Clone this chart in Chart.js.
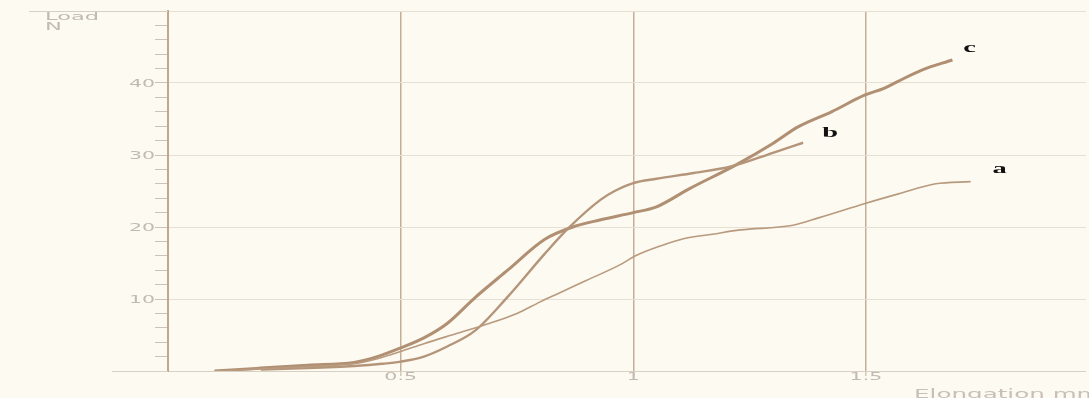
<!DOCTYPE html>
<html>
<head>
<meta charset="utf-8">
<script src="https://cdn.jsdelivr.net/npm/chart.js@4/dist/chart.umd.min.js"></script>
<style>
  html, body { margin: 0; padding: 0; background: #fcfaf1; }
  canvas { display: block; }
</style>
</head>
<body>
<canvas id="loadChart" width="1089" height="398"></canvas>
<script>
// elongation (mm) and load (N)
const elongA = [0.10, 0.20, 0.30, 0.40, 0.45, 0.50, 0.55, 0.62, 0.69, 0.75, 0.80, 0.84, 0.90, 0.97, 1.005, 1.06, 1.11, 1.17, 1.23, 1.34, 1.40, 1.50, 1.57, 1.65, 1.725];
const loadA  = [0.0, 0.3, 0.6, 1.0, 1.7, 2.7, 3.8, 5.2, 6.6, 8.0, 9.6, 10.8, 12.6, 14.7, 16.0, 17.4, 18.4, 19.0, 19.6, 20.2, 21.3, 23.3, 24.6, 26.0, 26.3];

const elongB = [0.20, 0.30, 0.40, 0.46, 0.50, 0.55, 0.60, 0.66, 0.73, 0.81, 0.86, 0.93, 0.96, 1.00, 1.05, 1.13, 1.21, 1.30, 1.365];
const loadB  = [0.2, 0.4, 0.7, 1.0, 1.3, 2.0, 3.4, 5.6, 10.3, 16.3, 19.8, 23.8, 25.0, 26.1, 26.7, 27.5, 28.4, 30.3, 31.7];

const elongC = [0.10, 0.20, 0.30, 0.40, 0.45, 0.50, 0.55, 0.60, 0.66, 0.73, 0.81, 0.87, 0.93, 1.00, 1.05, 1.12, 1.22, 1.30, 1.354, 1.426, 1.497, 1.54, 1.568, 1.62, 1.686];
const loadC  = [0.0, 0.4, 0.8, 1.2, 2.0, 3.2, 4.6, 6.6, 10.2, 14.0, 18.3, 20.0, 21.0, 22.0, 22.8, 25.3, 28.6, 31.6, 33.9, 36.0, 38.3, 39.3, 40.2, 41.8, 43.2];

const seriesNames = ['a', 'b', 'c'];
const xTickLabels = [0.5, 1, 1.5];
const yTickLabels = [10, 20, 30, 40];

const inkColor = '#b89a7e';
const labelColor = '#c2bab2';
const stretch = 2.05;

function toPoints(xs, ys) {
    return xs.map((x, i) => ({ x: x, y: ys[i] }));
}

function isMajorX(v) {
    return v > 0 && Math.abs(v * 2 - Math.round(v * 2)) < 1e-6;
}

function wideText(ctx, text, x, y, font, color, align, sx) {
    ctx.save();
    ctx.font = font;
    ctx.fillStyle = color;
    ctx.textAlign = align;
    ctx.textBaseline = 'middle';
    ctx.translate(x, y);
    ctx.scale(sx || stretch, 1);
    ctx.fillText(text, 0, 0);
    ctx.restore();
}

const paperPlugin = {
    id: 'paper',
    afterDraw(chart) {
        const ctx = chart.ctx;
        const xs = chart.scales.x;
        const ys = chart.scales.y;
        const left = chart.chartArea.left;

        // axis line and top rule run a bit past the left axis on the paper
        ctx.save();
        ctx.strokeStyle = '#d9d0c4';
        ctx.lineWidth = 1;
        ctx.beginPath();
        ctx.moveTo(112, ys.getPixelForValue(0) + 0.5);
        ctx.lineTo(left, ys.getPixelForValue(0) + 0.5);
        ctx.moveTo(29, ys.getPixelForValue(50) + 0.5);
        ctx.lineTo(left, ys.getPixelForValue(50) + 0.5);
        ctx.stroke();
        ctx.restore();

        yTickLabels.forEach(v => {
            wideText(ctx, String(v), left - 13, ys.getPixelForValue(v) + 1, '10px "DejaVu Sans"', labelColor, 'right');
        });
        xTickLabels.forEach(v => {
            wideText(ctx, String(v), xs.getPixelForValue(v), 377, '10px "DejaVu Sans"', labelColor, 'center');
        });

        wideText(ctx, 'Load', 45, 17, '11px "DejaVu Sans"', labelColor, 'left');
        wideText(ctx, 'N', 45, 27.5, '11px "DejaVu Sans"', labelColor, 'left');
        wideText(ctx, 'Elongation mm', 914, 395, '12px "DejaVu Sans"', '#c8c0b8', 'left');

        const offsets = [[29, -13], [27, -10], [17, -12]];
        chart.data.datasets.forEach((ds, i) => {
            const pts = chart.getDatasetMeta(i).data;
            const end = pts[pts.length - 1];
            wideText(ctx, seriesNames[i], end.x + offsets[i][0], end.y + offsets[i][1],
                'bold 15px "Liberation Serif"', '#111111', 'center', 1.9);
        });
    }
};

const ctx = document.getElementById('loadChart').getContext('2d');
const loadChart = new Chart(ctx, {
    type: 'line',
    data: {
        datasets: [
            { label: seriesNames[0], data: toPoints(elongA, loadA), borderColor: inkColor, borderWidth: 1.6 },
            { label: seriesNames[1], data: toPoints(elongB, loadB), borderColor: '#b5957a', borderWidth: 2.4 },
            { label: seriesNames[2], data: toPoints(elongC, loadC), borderColor: '#b08f72', borderWidth: 3 }
        ]
    },
    options: {
        responsive: false,
        animation: false,
        devicePixelRatio: 1,
        layout: { padding: { top: 11, right: 0, left: 0, bottom: 0 } },
        elements: {
            point: { radius: 0 },
            line: { tension: 0.35, cubicInterpolationMode: 'monotone', fill: false }
        },
        plugins: {
            legend: { display: false },
            tooltip: { enabled: false }
        },
        scales: {
            x: {
                type: 'linear',
                min: 0,
                max: 1.973,
                afterFit(scale) { scale.height = 27; },
                ticks: {
                    stepSize: 0.1,
                    autoSkip: false,
                    maxRotation: 0,
                    callback: () => ''
                },
                grid: {
                    color: c => isMajorX(c.tick.value) ? '#c4ae98' : 'rgba(0,0,0,0)',
                    lineWidth: c => isMajorX(c.tick.value) ? 1.5 : 0,
                    tickColor: c => c.tick.value > 0.001 ? '#d2c8bb' : 'rgba(0,0,0,0)',
                    tickLength: 5,
                    drawTicks: true
                },
                border: { color: '#d9d0c4', width: 1 }
            },
            y: {
                min: 0,
                max: 50,
                afterFit(scale) { scale.width = 168; },
                ticks: {
                    stepSize: 2,
                    autoSkip: false,
                    callback: () => ''
                },
                grid: {
                    color: c => (c.tick.value > 0 && c.tick.value % 10 === 0) ? '#e6dfd2' : 'rgba(0,0,0,0)',
                    lineWidth: 1,
                    tickColor: c => (c.tick.value > 0 && c.tick.value < 50) ? '#cdc2b5' : 'rgba(0,0,0,0)',
                    tickLength: 13
                },
                border: { color: '#c0a88f', width: 2 }
            }
        }
    },
    plugins: [paperPlugin]
});
</script>
</body>
</html>
